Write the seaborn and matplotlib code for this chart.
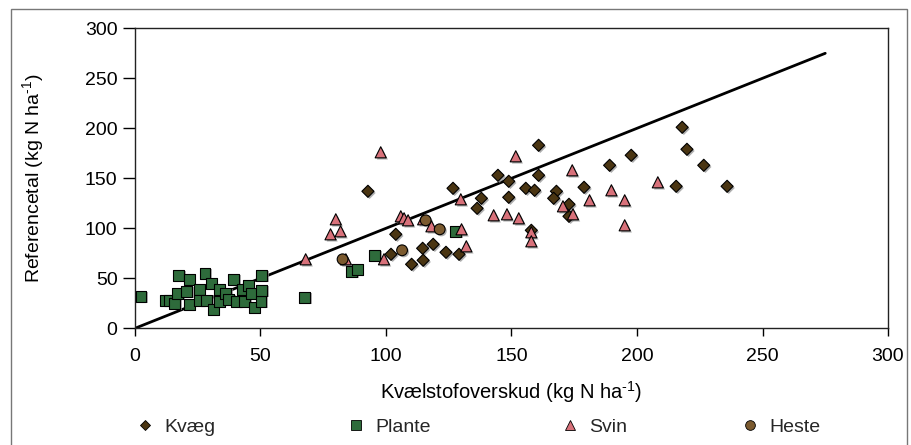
import matplotlib
matplotlib.use("Agg")
import matplotlib.pyplot as plt
import matplotlib.patheffects as pe
from matplotlib.lines import Line2D
from matplotlib.patches import Rectangle
import pandas as pd
import seaborn as sns

# Nitrogen surplus (x) vs. reference value (y), kg N per ha, by farm type
kvaeg_x = [92.8, 126.7, 103.9, 102.0, 110.2, 114.8, 114.6, 118.8, 123.9, 129.1,
           136.3, 138.0, 144.6, 148.9, 160.8, 160.8, 148.9, 155.7, 159.2, 167.9,
           166.8, 172.9, 172.9, 178.9, 157.9, 189.1, 197.7, 218.0, 219.9, 226.6,
           215.6, 235.9]
kvaeg_y = [137, 140, 94, 74, 64, 68, 80, 84, 76, 74,
           120, 130, 153, 147, 183, 153, 131, 140, 138, 137,
           130, 124, 112, 141, 98, 163, 173, 201, 179, 163,
           142, 142]

plante_x = [2.4, 12.2, 13.9, 15.9, 17.0, 17.5, 20.6, 21.6, 21.6, 25.6,
            25.6, 27.9, 28.5, 30.3, 31.2, 33.6, 33.6, 36.2, 37.4, 39.4,
            40.5, 42.9, 43.8, 45.1, 46.5, 47.5, 50.2, 50.4, 50.4, 67.7,
            86.3, 88.5, 95.5, 127.7]
plante_y = [32, 28, 28, 25, 35, 53, 37, 49, 24, 39,
            28, 55, 28, 45, 19, 39, 27, 35, 29, 49,
            27, 39, 27, 43, 35, 21, 27, 53, 38, 31,
            57, 59, 73, 97]

svin_x = [68.0, 80.0, 77.9, 81.9, 84.0, 97.9, 99.2, 105.9, 107.2, 108.8,
          114.8, 118.1, 129.8, 130.1, 132.0, 142.9, 148.2, 151.7, 152.9, 157.9,
          157.9, 170.5, 174.2, 174.5, 181.1, 189.8, 195.1, 195.1, 208.3]
svin_y = [69, 109, 94, 97, 69, 176, 69, 112, 110, 108,
          109, 102, 129, 99, 82, 113, 114, 172, 110, 96,
          87, 122, 158, 114, 128, 138, 128, 103, 146]

heste_x = [82.7, 106.4, 121.4, 115.8]
heste_y = [69, 78, 99, 108]

# 1:1 reference line
line_x = [0, 275]
line_y = [0, 275]

groups = ["Kvæg", "Plante", "Svin", "Heste"]
colors = {"Kvæg": "#4a3512", "Plante": "#2e6b3b", "Svin": "#d8717a", "Heste": "#7b5a2f"}
markers = {"Kvæg": "D", "Plante": "s", "Svin": "^", "Heste": "o"}
areas = {"Kvæg": 38, "Plante": 62, "Svin": 64, "Heste": 60}
axis_ticks = [0, 50, 100, 150, 200, 250, 300]

df = pd.concat([
    pd.DataFrame({"x": kvaeg_x, "y": kvaeg_y, "type": "Kvæg"}),
    pd.DataFrame({"x": plante_x, "y": plante_y, "type": "Plante"}),
    pd.DataFrame({"x": svin_x, "y": svin_y, "type": "Svin"}),
    pd.DataFrame({"x": heste_x, "y": heste_y, "type": "Heste"}),
], ignore_index=True)

sns.set_theme(style="white")
plt.rcParams["font.family"] = ["Liberation Sans", "DejaVu Sans"]
plt.rcParams["mathtext.default"] = "regular"

fig = plt.figure(figsize=(9.12, 4.45), dpi=100)
ax = fig.add_axes([135 / 912, (445 - 328.3) / 445, 753 / 912, 300 / 445])

sns.lineplot(x=line_x, y=line_y, ax=ax, color="black", linewidth=2.0, zorder=1)

sns.scatterplot(data=df, x="x", y="y", hue="type", style="type", size="type",
                hue_order=groups, style_order=groups, size_order=groups,
                palette=colors, markers=markers, sizes=areas,
                edgecolor="black", linewidth=0.8, legend=False, ax=ax, zorder=3)
for coll in ax.collections:
    coll.set_path_effects([pe.SimplePatchShadow(offset=(1.2, -1.2), shadow_rgbFace="0.55", alpha=0.7),
                           pe.Normal()])

ax.set_xlim(0, 300)
ax.set_ylim(0, 300)
ax.set_xticks(axis_ticks)
ax.set_yticks(axis_ticks)
ax.tick_params(axis="both", labelsize=14, colors="black", width=1.0)
ax.tick_params(axis="x", direction="out", length=6, pad=8, bottom=True)
ax.tick_params(axis="y", direction="out", length=8.6, pad=4, left=True)
for side in ["left", "right", "top", "bottom"]:
    ax.spines[side].set_color("#222222")
    ax.spines[side].set_linewidth(1.0)

ax.set_xlabel("Kvælstofoverskud (kg N ha$^{\u20101}$)", fontsize=14.5, color="black")
ax.set_ylabel("Referencetal (kg N ha$^{\u20101}$)", fontsize=14, color="black")
ax.xaxis.set_label_coords(0.5, -0.17)
ax.yaxis.set_label_coords(-0.118, 0.5)

# legend row beneath the axis title
legend_x = [145, 356, 570, 750]
fs_px = 14 * 100 / 72
hl = 0.8
for g, mx in zip(groups, legend_x):
    h = Line2D([], [], linestyle="none", marker=markers[g], markersize=7 if g != "Kvæg" else 5.6,
               markerfacecolor=colors[g], markeredgecolor="black", markeredgewidth=0.6)
    left = (mx - hl * fs_px / 2) / 912
    fig.legend(handles=[h], labels=[g], loc="center left", bbox_to_anchor=(left, (445 - 427) / 445),
               frameon=False, fontsize=14, handlelength=hl, handletextpad=0.6,
               borderpad=0, borderaxespad=0)

# thin outer frame around the figure
fig.patches.append(Rectangle((11 / 912, -0.1), (907 - 11) / 912, (445 - 9) / 445 + 0.1,
                             transform=fig.transFigure, fill=False, edgecolor="#777777",
                             linewidth=1.0, clip_on=False))

fig.savefig("out.png", dpi=100)
